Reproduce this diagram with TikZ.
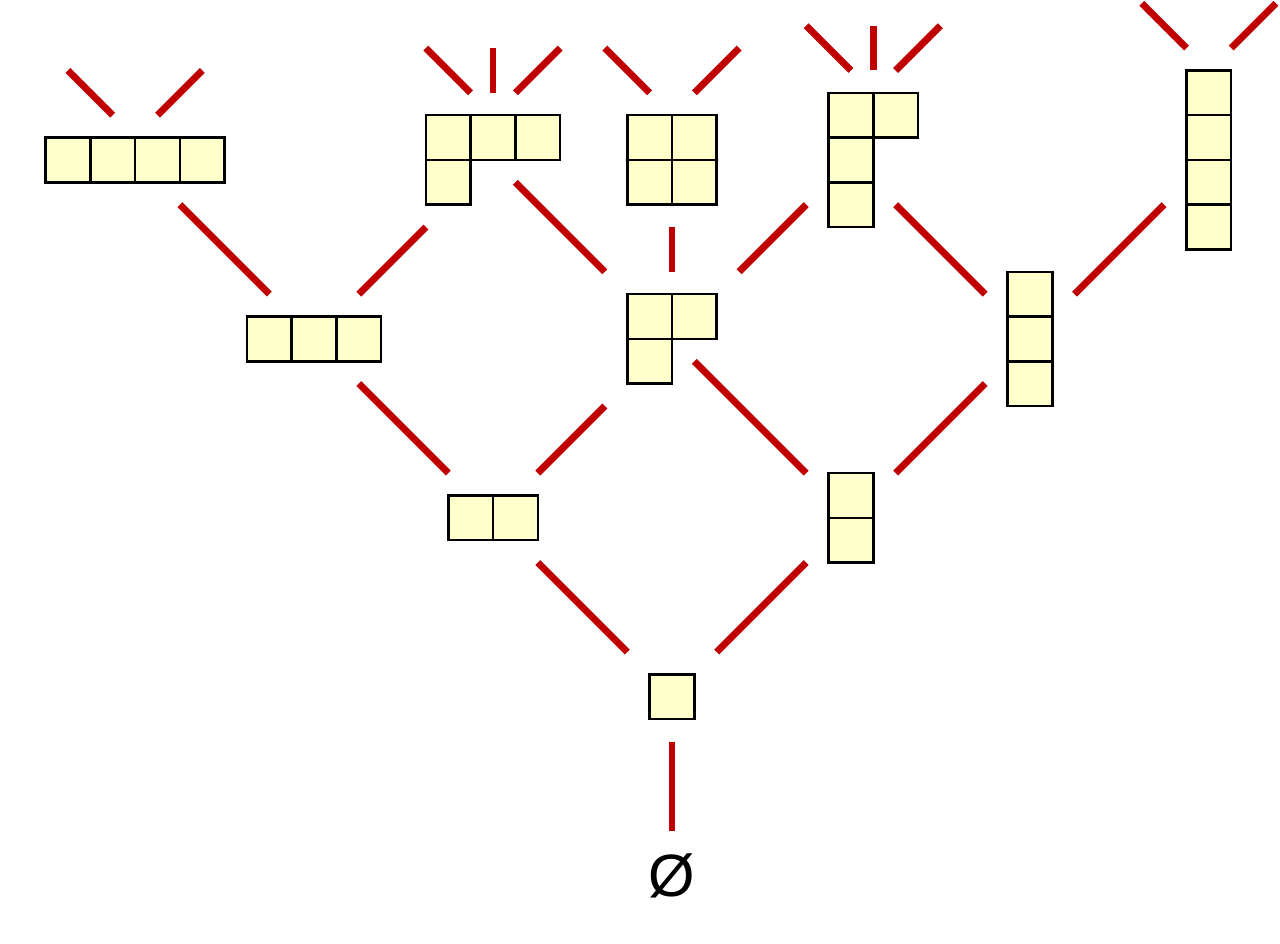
\documentclass[tikz,border=0pt]{standalone}
\usepackage{fontspec}
\newfontfamily\labelfont{Liberation Sans}
\usetikzlibrary{calc}
\definecolor{boxfill}{RGB}{255,255,204}
\definecolor{edgered}{RGB}{192,0,0}
\newcommand{\young}[3]{%
  \foreach \len [count=\r] in {#3} {
    \foreach \c in {1,...,\len} {
      \node[cell] (#1-\r-\c) at ($(#2)+(\c-1,1-\r)$) {};
    }
  }%
}
\begin{document}
\begin{tikzpicture}[x=5mm, y=5mm,
    cell/.style = {draw, fill=boxfill, line width=0.8pt, minimum size=5mm, inner sep=0pt, outer sep=0pt, anchor=north west},
    edge/.style = {draw=edgered, line width=2.2pt}]
      \useasboundingbox (-15.02,-5.52) rectangle (13.59,15.575);

      \node[font=\labelfont\fontsize{19}{23}\selectfont, inner sep=0pt] (v0) at (0,-4) {Ø};
      \coordinate (v1) at (0,0);
      \coordinate (v2) at (-4,4);
      \coordinate (v11) at (4,4);
      \coordinate (v3) at (-8,8);
      \coordinate (v21) at (0,8);
      \coordinate (v111) at (8,8);
      \coordinate (v4) at (-12,12);
      \coordinate (v31) at (-4,12);
      \coordinate (v22) at (0,12);
      \coordinate (v211) at (4,12);
      \coordinate (v1111) at (12,12);

      \young{d1}{-0.5,0.5}{1}
      \young{d2}{-5,4.5}{2}
      \young{d11}{3.5,5}{1,1}
      \young{d3}{-9.5,8.5}{3}
      \young{d21}{-1,9}{2,1}
      \young{d111}{7.5,9.5}{1,1,1}
      \young{d4}{-14,12.5}{4}
      \young{d31}{-5.5,13}{3,1}
      \young{d22}{-1,13}{2,2}
      \young{d211}{3.5,13.5}{2,1,1}
      \young{d1111}{11.5,14}{1,1,1,1}

      \foreach \a/\b/\s/\e in {v1/v0/.25/.75, v1/v2/.25/.75, v1/v11/.25/.75,
          v2/v3/.25/.75, v2/v21/.25/.625, v11/v21/.25/.875, v11/v111/.25/.75,
          v3/v4/.25/.75, v3/v31/.25/.625, v21/v31/.375/.875, v21/v22/.375/.625,
          v21/v211/.375/.75, v111/v211/.25/.75, v111/v1111/.25/.75}
        \draw[edge] ($(\a)!\s!(\b)$) to ($(\a)!\e!(\b)$);

      \foreach \t in {d4-1-2.north east, d31-1-2.north, d22-1-1.north east, d211-1-1.north east, d1111-1-1.north} {
        \draw[edge] ([shift={(-.5,.5)}]\t) to ++(-1,1);
        \draw[edge] ([shift={(.5,.5)}]\t) to ++(1,1);
      }
      \foreach \t in {d31-1-2.north, d211-1-1.north east}
        \draw[edge] ([shift={(0,.5)}]\t) to ++(0,1);
\end{tikzpicture}
\end{document}
